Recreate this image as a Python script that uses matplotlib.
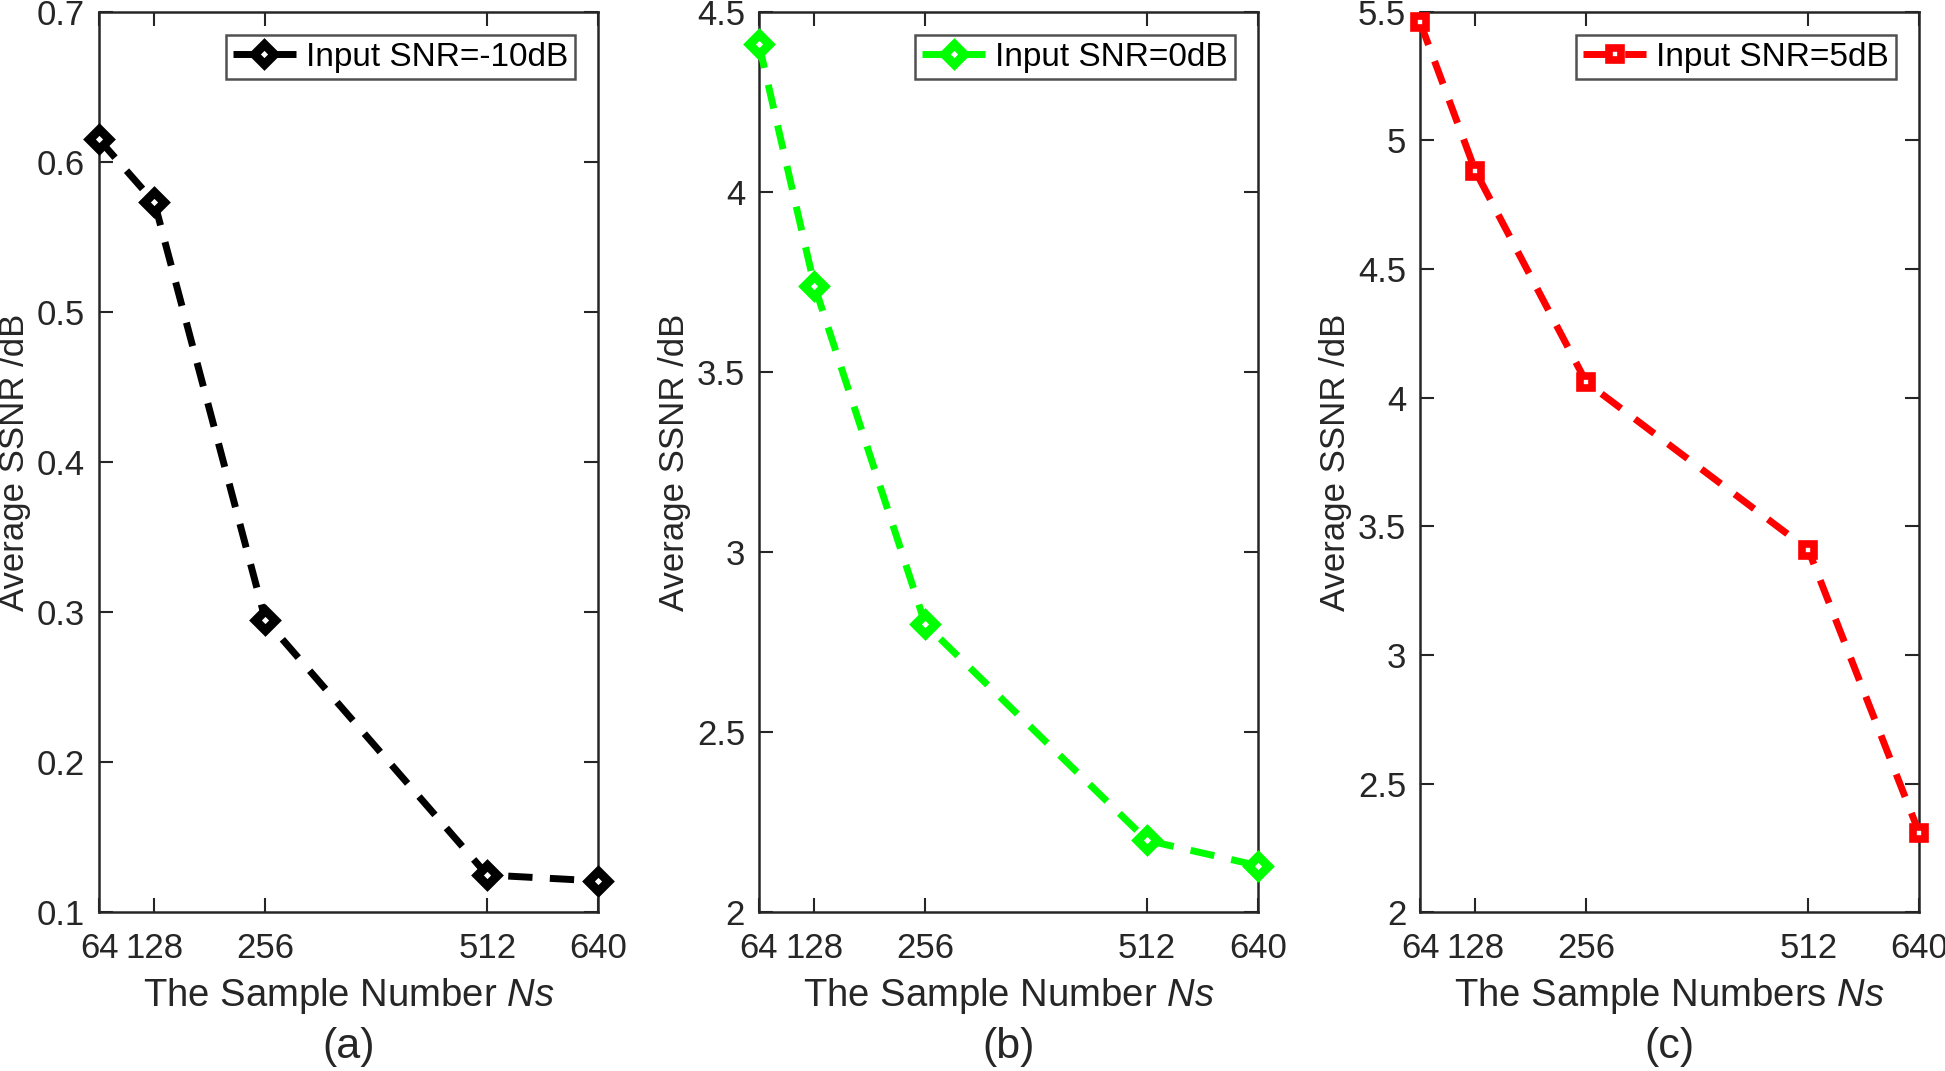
"""
Average SSNR vs. sample number, three input SNR levels (a)(b)(c).
"""
import matplotlib
matplotlib.use("Agg")
import matplotlib.pyplot as plt

plt.rcParams['font.family'] = ['Liberation Sans', 'DejaVu Sans']
plt.rcParams['mathtext.fontset'] = 'custom'
plt.rcParams['mathtext.it'] = 'Liberation Sans:italic'
plt.rcParams['mathtext.rm'] = 'Liberation Sans'

# データ
sample_numbers = [64, 128, 256, 512, 640]
ssnr_m10 = [0.615, 0.573, 0.295, 0.125, 0.121]
ssnr_0 = [4.41, 3.74, 2.80, 2.20, 2.13]
ssnr_5 = [5.46, 4.88, 4.06, 3.41, 2.31]

labels = ["Input SNR=-10dB", "Input SNR=0dB", "Input SNR=5dB"]
colors = ["black", "#00ff00", "#ff0000"]
markers = ["D", "D", "s"]
xlabels = ["The Sample Number $\\mathit{Ns}$",
           "The Sample Number $\\mathit{Ns}$",
           "The Sample Numbers $\\mathit{Ns}$"]
ylims = [(0.1, 0.7), (2, 4.5), (2, 5.5)]
yticks = [[0.1, 0.2, 0.3, 0.4, 0.5, 0.6, 0.7],
          [2, 2.5, 3, 3.5, 4, 4.5],
          [2, 2.5, 3, 3.5, 4, 4.5, 5, 5.5]]
ytick_labels = [["0.1", "0.2", "0.3", "0.4", "0.5", "0.6", "0.7"],
                ["2", "2.5", "3", "3.5", "4", "4.5"],
                ["2", "2.5", "3", "3.5", "4", "4.5", "5", "5.5"]]
panels = ["(a)", "(b)", "(c)"]
series = [ssnr_m10, ssnr_0, ssnr_5]

fig = plt.figure(figsize=(19.45, 10.71), dpi=100)
lefts = [0.0509, 0.3902, 0.7301]
width = 0.2566
tick_color = "#262626"

for i in range(3):
    ax = fig.add_axes([lefts[i], 0.148, width, 0.841])
    if markers[i] == "D":
        ms, mew = 10, 6.5
    else:
        ms, mew = 8, 5.5
    ax.plot(sample_numbers, series[i], linestyle="--", dashes=(3.5, 2.5),
            color=colors[i], linewidth=5, marker=markers[i], markersize=ms,
            markerfacecolor="white", markeredgecolor=colors[i],
            markeredgewidth=mew, label=labels[i], clip_on=False, zorder=3)
    ax.set_xlim(64, 640)
    ax.set_ylim(*ylims[i])
    ax.set_xticks(sample_numbers)
    ax.set_xticklabels([str(s) for s in sample_numbers])
    ax.set_yticks(yticks[i])
    ax.set_yticklabels(ytick_labels[i])
    ax.tick_params(direction="in", length=10, width=1.5, top=True, right=True,
                   labelsize=25, colors=tick_color)
    ax.tick_params(axis="x", pad=14)
    ax.tick_params(axis="y", pad=10)
    for sp in ax.spines.values():
        sp.set_linewidth(1.8)
        sp.set_color(tick_color)
    ax.set_ylabel("Average SSNR /dB", fontsize=25, color=tick_color)
    ax.yaxis.set_label_coords(-0.136, 0.5)
    ax.set_xlabel(xlabels[i], fontsize=27.5, color=tick_color, labelpad=8)
    leg = ax.legend(loc="upper right", fontsize=24, fancybox=False,
                    handlelength=1.9, handletextpad=0.3, borderpad=0.2,
                    borderaxespad=0.7)
    leg.get_frame().set_edgecolor(tick_color)
    leg.get_frame().set_linewidth(1.8)
    fig.text(lefts[i] + width / 2, 0.004, panels[i], ha="center",
             va="bottom", fontsize=31, color=tick_color)

fig.savefig("out.png", dpi=100)
